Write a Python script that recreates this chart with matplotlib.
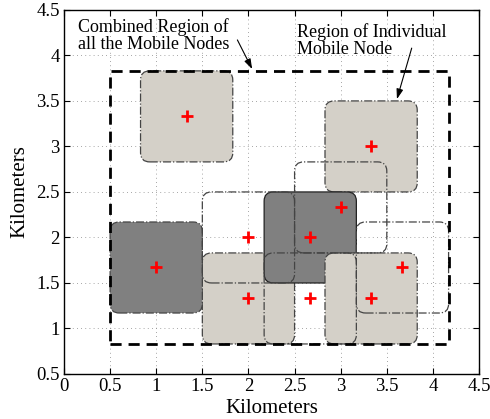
import numpy as np
import matplotlib.pyplot as plt
from matplotlib.patches import FancyBboxPatch

plt.rcParams['font.family'] = ['Liberation Serif', 'DejaVu Serif']

# node positions (km)
node_x = [1.33, 3.33, 2.0, 1.0, 2.67, 3.33, 2.0, 3.0, 2.67, 3.67]
node_y = [3.33, 3.0, 1.33, 1.67, 2.0, 1.33, 2.0, 2.33, 1.33, 1.67]
# fill style of each node's region, in drawing order
node_fill = ['light', 'light', 'light', 'dark', 'dark', 'light', 'none', 'none', 'none', 'none']
node_edge = ['-.', '-.', '-.', '-.', '-', '-.', '-.', '-.', '-.', '-.']
half_side = 0.5

# combined region
comb_x = [0.5, 4.17]
comb_y = [0.83, 3.83]

xticks = np.arange(0, 4.51, 0.5)
yticks = np.arange(0.5, 4.51, 0.5)
tick_labels_x = ['0', '0.5', '1', '1.5', '2', '2.5', '3', '3.5', '4', '4.5']
tick_labels_y = ['0.5', '1', '1.5', '2', '2.5', '3', '3.5', '4', '4.5']

colors = {'light': '#d4d0c8', 'dark': '#808080', 'none': 'none'}

fig = plt.figure(figsize=(4.9, 4.19), dpi=100)
ax = fig.add_axes([0.1306, 0.1074, 0.847, 0.869])

for i, (x, y) in enumerate(zip(node_x, node_y)):
    p = FancyBboxPatch((x - half_side, y - half_side), 2 * half_side, 2 * half_side,
                       boxstyle="round,pad=0,rounding_size=0.1",
                       facecolor=colors[node_fill[i]],
                       edgecolor='#222222' if node_edge[i] == '-' else '#444444',
                       linestyle=node_edge[i], linewidth=0.9, zorder=2 + i * 0.01)
    ax.add_patch(p)

ax.plot([comb_x[0], comb_x[1], comb_x[1], comb_x[0], comb_x[0]],
        [comb_y[0], comb_y[0], comb_y[1], comb_y[1], comb_y[0]],
        color='black', linestyle=(0, (4, 2.5)), linewidth=2, zorder=3)

ax.plot(node_x, node_y, '+', color='red', markersize=9, markeredgewidth=2, zorder=4)

ax.set_xlim(0, 4.5)
ax.set_ylim(0.5, 4.5)
ax.set_xticks(xticks)
ax.set_yticks(yticks)
ax.set_xticklabels(tick_labels_x)
ax.set_yticklabels(tick_labels_y)
ax.tick_params(direction='in', top=True, right=True, length=4, labelsize=13.5, width=0.8, pad=3)
ax.grid(True, linestyle=(0, (1, 4)), color='#888888', linewidth=0.6, zorder=0)
ax.set_axisbelow(True)
for s in ax.spines.values():
    s.set_linewidth(1.0)

ax.set_xlabel('Kilometers', fontsize=15, labelpad=3)
ax.set_ylabel('Kilometers', fontsize=15, labelpad=5)

ax.text(0.15, 4.41, 'Combined Region of\nall the Mobile Nodes', fontsize=13,
        ha='left', va='top', linespacing=1.0, zorder=5)
ax.text(2.53, 4.35, 'Region of Individual\nMobile Node', fontsize=13,
        ha='left', va='top', linespacing=1.0, zorder=5)
ax.annotate('', xy=(2.04, 3.85), xytext=(1.88, 4.17),
            arrowprops=dict(arrowstyle='-|>,head_length=0.6,head_width=0.2', color='black',
                            lw=0.8, shrinkA=0, shrinkB=0), zorder=5)
ax.annotate('', xy=(3.61, 3.52), xytext=(3.77, 4.08),
            arrowprops=dict(arrowstyle='-|>,head_length=0.6,head_width=0.2', color='black',
                            lw=0.8, shrinkA=0, shrinkB=0), zorder=5)

fig.savefig('out.png', dpi=100)
